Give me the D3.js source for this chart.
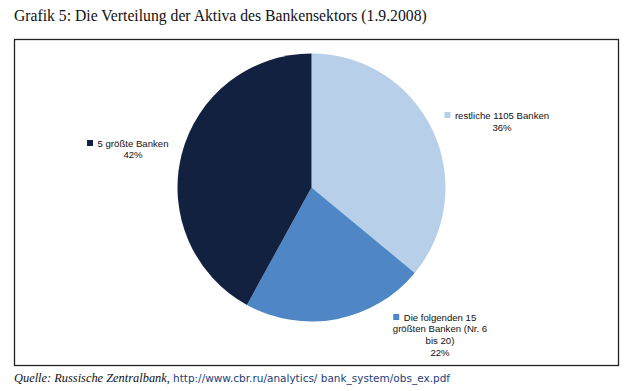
<!DOCTYPE html>
<html>
<head>
<meta charset="utf-8">
<script src="https://cdn.jsdelivr.net/npm/d3@7"></script>
<style>
  body { margin: 0; background: #fff; }
  #chart { width: 634px; height: 391px; }
</style>
</head>
<body>
<div id="chart"></div>
<script>
// data
const categories = ["restliche 1105 Banken", "Die folgenden 15 größten Banken (Nr. 6 bis 20)", "5 größte Banken"];
const labelLines = [["restliche 1105 Banken"], ["Die folgenden 15", "größten Banken (Nr. 6", "bis 20)"], ["5 größte Banken"]];
const values = [36, 22, 42];
const colors = ["#b8cfea", "#4f87c6", "#132141"];

const width = 634, height = 391;
const cx = 311.5, cy = 187.5, r = 134;

const svg = d3.select("#chart").append("svg")
  .attr("width", width)
  .attr("height", height);

// title
svg.append("text")
  .attr("x", 14)
  .attr("y", 21)
  .attr("font-family", "Liberation Serif, serif")
  .attr("font-size", 15.7)
  .attr("fill", "#111")
  .text("Grafik 5: Die Verteilung der Aktiva des Bankensektors (1.9.2008)");

// frame
svg.append("rect")
  .attr("x", 14.5)
  .attr("y", 39.5)
  .attr("width", 604)
  .attr("height", 326)
  .attr("fill", "none")
  .attr("stroke", "#222")
  .attr("stroke-width", 1.3);

/*
 PIE
*/
const pie = d3.pie().sort(null).value(d => d);
const arc = d3.arc().innerRadius(0).outerRadius(r);
const arcs = pie(values);

const g = svg.append("g").attr("transform", `translate(${cx},${cy})`);
g.selectAll("path")
  .data(arcs)
  .enter()
  .append("path")
  .attr("d", arc)
  .attr("fill", (d, i) => colors[i]);

// label layout: text column center x, first baseline y, line height
const labelPos = [[502, 118.5, 12.3], [440, 320.5, 11.7], [133, 146.5, 11.5]];

arcs.forEach(function (d, i) {
  const lines = labelLines[i].concat([values[i] + "%"]);
  const [lx, ly, lh] = labelPos[i];
  const t = svg.append("text")
    .attr("font-family", "Liberation Sans, sans-serif")
    .attr("font-size", 9.6)
    .attr("fill", "#111")
    .attr("text-anchor", "middle");
  lines.forEach(function (line, k) {
    t.append("tspan")
      .attr("x", lx)
      .attr("y", ly + k * lh)
      .text(line);
  });
  // legend key square before first line
  const w = t.select("tspan").node().getComputedTextLength();
  svg.append("rect")
    .attr("x", lx - w / 2 - 10.5)
    .attr("y", ly - 6.5)
    .attr("width", 6)
    .attr("height", 6)
    .attr("fill", colors[i]);
});

// source
const src = svg.append("text")
  .attr("x", 14)
  .attr("y", 382);
src.append("tspan")
  .attr("font-family", "Liberation Serif, serif")
  .attr("font-style", "italic")
  .attr("font-size", 12.4)
  .attr("fill", "#111")
  .text("Quelle: Russische Zentralbank, ");
src.append("tspan")
  .attr("font-family", "DejaVu Sans, sans-serif")
  .attr("font-size", 10.5)
  .attr("fill", "#24407a")
  .text("http://www.cbr.ru/analytics/ bank_system/obs_ex.pdf");
</script>
</body>
</html>
